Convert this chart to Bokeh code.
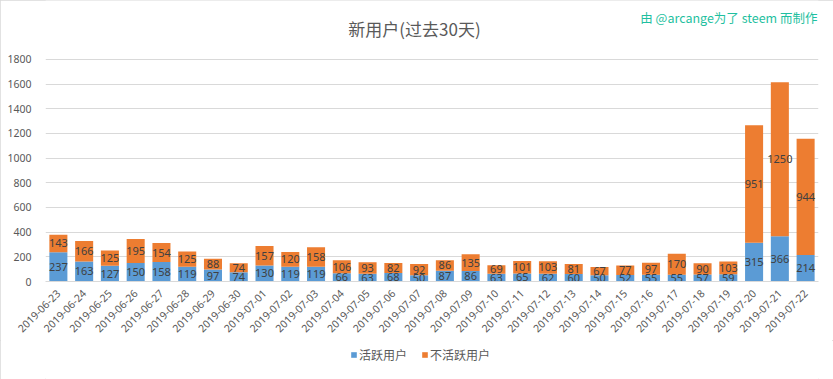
import math
from bokeh.plotting import figure
from bokeh.layouts import column
from bokeh.models import ColumnDataSource, FactorRange, FixedTicker, Label, Legend, LegendItem, Range1d
from bokeh.core.properties import value
from bokeh.embed import file_html
from bokeh.resources import INLINE

dates = ["2019-06-23", "2019-06-24", "2019-06-25", "2019-06-26", "2019-06-27", "2019-06-28",
         "2019-06-29", "2019-06-30", "2019-07-01", "2019-07-02", "2019-07-03", "2019-07-04",
         "2019-07-05", "2019-07-06", "2019-07-07", "2019-07-08", "2019-07-09", "2019-07-10",
         "2019-07-11", "2019-07-12", "2019-07-13", "2019-07-14", "2019-07-15", "2019-07-16",
         "2019-07-17", "2019-07-18", "2019-07-19", "2019-07-20", "2019-07-21", "2019-07-22"]
active = [237, 163, 127, 150, 158, 119, 97, 74, 130, 119, 119, 66, 63, 68, 50, 87, 86, 63,
          65, 62, 60, 50, 52, 55, 55, 57, 59, 315, 366, 214]
inactive = [143, 166, 125, 195, 154, 125, 88, 74, 157, 120, 158, 106, 93, 82, 92, 86, 135, 69,
            101, 103, 81, 67, 77, 97, 170, 90, 103, 951, 1250, 944]
y_ticks = [0, 200, 400, 600, 800, 1000, 1200, 1400, 1600, 1800]
series_names = ["活跃用户", "不活跃用户"]
title_text = "新用户(过去30天)"
credit_text = "由 @arcange为了 steem 而制作"

BLUE = "#5b9bd5"
ORANGE = "#ed7d31"
GRID = "#d9d9d9"
TXT = "#595959"
NUM_FONT = "Noto Sans"
CJK_FONT = "Noto Sans CJK SC"

src = ColumnDataSource(dict(
    date=dates,
    active=active,
    inactive=inactive,
    active_lbl=[str(v) for v in active],
    inactive_lbl=[str(v) for v in inactive],
    active_mid=[a / 2 for a in active],
    inactive_mid=[a + b / 2 for a, b in zip(active, inactive)],
))

# main chart: frame reaches the top so title and credit can sit inside it
p = figure(width=833, height=340, x_range=FactorRange(*dates), y_range=Range1d(0, 2278),
           output_backend="svg", toolbar_location=None,
           min_border_left=45, min_border_right=15, min_border_top=0, min_border_bottom=59)
p.title.text = ""
p.outline_line_color = None
p.background_fill_color = "white"
p.border_fill_color = "white"

r = p.vbar_stack(["active", "inactive"], x="date", width=0.7, color=[BLUE, ORANGE],
                 line_color=None, source=src)

for col, ycol in (("active_lbl", "active_mid"), ("inactive_lbl", "inactive_mid")):
    p.text(x="date", y=ycol, text=col, source=src, text_align="center", text_baseline="middle",
           text_font=value(NUM_FONT), text_font_size="11px", text_color="#404040")

p.yaxis.ticker = FixedTicker(ticks=y_ticks)
p.yaxis.axis_line_color = None
p.yaxis.major_tick_line_color = None
p.yaxis.minor_tick_line_color = None
p.yaxis.major_label_text_font = NUM_FONT
p.yaxis.major_label_text_font_size = "10.5px"
p.yaxis.major_label_text_color = TXT
p.yaxis.major_label_standoff = 8

p.xaxis.axis_line_color = GRID
p.xaxis.major_tick_line_color = None
p.xaxis.minor_tick_line_color = None
p.xaxis.major_label_orientation = math.pi / 4
p.xaxis.major_label_text_font = NUM_FONT
p.xaxis.major_label_text_font_size = "10.5px"
p.xaxis.major_label_text_color = TXT
p.xaxis.major_label_standoff = 4

p.xgrid.grid_line_color = None
p.ygrid.grid_line_color = GRID
p.ygrid.ticker = FixedTicker(ticks=y_ticks)

p.add_layout(Label(x=369, y=253, x_units="screen", y_units="screen", text=title_text,
                   text_align="center", text_baseline="middle", text_font=CJK_FONT,
                   text_font_size="17px", text_color=TXT))
p.add_layout(Label(x=772, y=264, x_units="screen", y_units="screen", text=credit_text,
                   text_align="right", text_baseline="middle", text_font=CJK_FONT,
                   text_font_size="12.5px", text_color="#1fbfa0"))

# legend strip below the chart (its bars sit outside its visible range)
lg = figure(width=833, height=39, x_range=FactorRange(*dates), y_range=Range1d(5000, 6000),
            output_backend="svg", toolbar_location=None, x_axis_type=None, y_axis_type=None,
            min_border_left=0, min_border_right=0, min_border_top=0, min_border_bottom=0)
lg.title.text = ""
lg.outline_line_color = None
lg.xgrid.grid_line_color = None
lg.ygrid.grid_line_color = None
sw = lg.vbar_stack(["active", "inactive"], x="date", width=0.7, color=[BLUE, ORANGE],
                   line_color=None, source=src)
legend = Legend(items=[LegendItem(label=series_names[0], renderers=[sw[0]]),
                       LegendItem(label=series_names[1], renderers=[sw[1]])],
                orientation="horizontal", location=(305, 16),
                glyph_width=7, glyph_height=7, label_height=14, label_text_font=CJK_FONT,
                label_text_font_size="12px", label_text_color=TXT, label_text_baseline="middle",
                label_standoff=2, spacing=14, padding=0, margin=0,
                border_line_color=None, background_fill_alpha=0)
lg.add_layout(legend, "center")

layout = column(p, lg, spacing=0,
                styles={"outline": "1px solid #d9d9d9", "outline-offset": "-1px"})
open("out.html", "w").write(file_html(layout, INLINE))
